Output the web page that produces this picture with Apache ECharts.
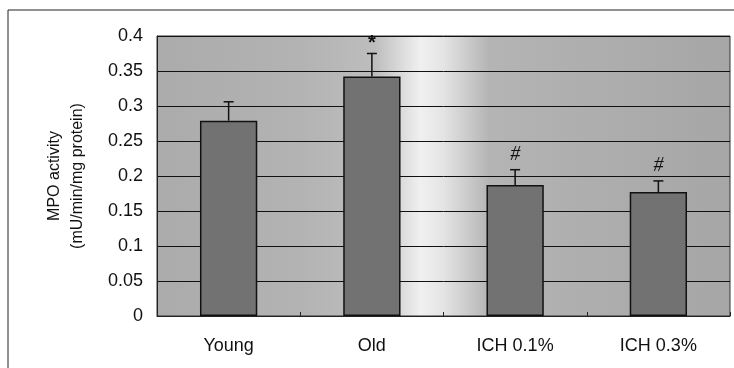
<!DOCTYPE html>
<html>
<head>
<meta charset="utf-8">
<script src="https://cdn.jsdelivr.net/npm/echarts@6/dist/echarts.min.js"></script>
<style>
  html, body { margin: 0; padding: 0; background: #fff; }
  #chart { width: 734px; height: 368px; }
</style>
</head>
<body>
<div id="chart"></div>
<script>
// data
var groups = ['Young', 'Old', 'ICH 0.1%', 'ICH 0.3%'];
var means = [0.279, 0.342, 0.187, 0.177];
var upper = [0.306, 0.375, 0.209, 0.193];
var marks = ['', '*', '#', '#'];
var yTicks = [0, 0.05, 0.1, 0.15, 0.2, 0.25, 0.3, 0.35, 0.4];

var chart = echarts.init(document.getElementById('chart'));

var errData = groups.map(function (g, i) { return [i, means[i], upper[i]]; });

var option = {
  animation: false,
  textStyle: { fontFamily: 'Liberation Sans, Arial, sans-serif' },
  graphic: [
    { type: 'line', shape: { x1: 8, y1: 10, x2: 734, y2: 10 }, style: { stroke: '#222', lineWidth: 1 } },
    { type: 'line', shape: { x1: 8, y1: 10, x2: 8, y2: 368 }, style: { stroke: '#222', lineWidth: 1 } }
  ],
  grid: {
    left: 157, right: 4, top: 36, bottom: 52,
    show: true,
    borderColor: '#333',
    borderWidth: 1,
    backgroundColor: {
      type: 'linear', x: 0, y: 0, x2: 1, y2: 0,
      colorStops: [
        { offset: 0, color: '#ababab' },
        { offset: 0.25, color: '#b3b3b3' },
        { offset: 0.38, color: '#bdbdbd' },
        { offset: 0.46, color: '#f0f0f0' },
        { offset: 0.5, color: '#e4e4e4' },
        { offset: 0.58, color: '#b4b4b4' },
        { offset: 1, color: '#a6a6a6' }
      ]
    }
  },
  xAxis: {
    type: 'category',
    data: groups,
    axisLine: { lineStyle: { color: '#222', width: 1 } },
    axisTick: { show: true, inside: true, length: 4, lineStyle: { color: '#222' } },
    axisLabel: { color: '#111', fontSize: 18, margin: 21 }
  },
  yAxis: {
    type: 'value',
    min: 0, max: 0.4, interval: 0.05,
    name: 'MPO activity\n(mU/min/mg protein)',
    nameLocation: 'middle',
    nameRotate: 90,
    nameGap: 68,
    nameTextStyle: { color: '#111', fontSize: 16, lineHeight: 23 },
    axisLine: { show: true, lineStyle: { color: '#222' } },
    axisTick: { show: false },
    axisLabel: {
      color: '#111', fontSize: 18, margin: 14,
      formatter: function (v) {
        var t = yTicks.filter(function (y) { return Math.abs(y - v) < 1e-9; })[0];
        return t === undefined ? '' : String(t);
      }
    },
    splitLine: { show: true, lineStyle: { color: '#111', width: 1 } }
  },
  series: [
    {
      type: 'bar',
      data: means,
      barWidth: '40%',
      itemStyle: { color: '#727272', borderColor: '#111', borderWidth: 1.5 }
    },
    {
      type: 'custom',
      data: errData,
      z: 5,
      renderItem: function (params, api) {
        var i = api.value(0);
        var top = api.coord([i, api.value(2)]);
        var base = api.coord([i, api.value(1)]);
        var label = marks[params.dataIndex];
        var children = [
          { type: 'line', shape: { x1: top[0], y1: base[1], x2: top[0], y2: top[1] }, style: { stroke: '#111', lineWidth: 1.5 } },
          { type: 'line', shape: { x1: top[0] - 5, y1: top[1], x2: top[0] + 5, y2: top[1] }, style: { stroke: '#111', lineWidth: 1.5 } }
        ];
        if (label) {
          var isHash = label === '#';
          children.push({
            type: 'text',
            style: {
              text: label, x: top[0], y: top[1] - (isHash ? 5 : 0),
              align: 'center', verticalAlign: 'bottom',
              fill: '#111',
              font: isHash ? 'italic 20px "Liberation Serif", serif' : 'bold 20px "Liberation Sans", sans-serif'
            }
          });
        }
        return { type: 'group', children: children };
      }
    }
  ]
};

chart.setOption(option);
window.addEventListener('resize', chart.resize);
</script>
</body>
</html>
